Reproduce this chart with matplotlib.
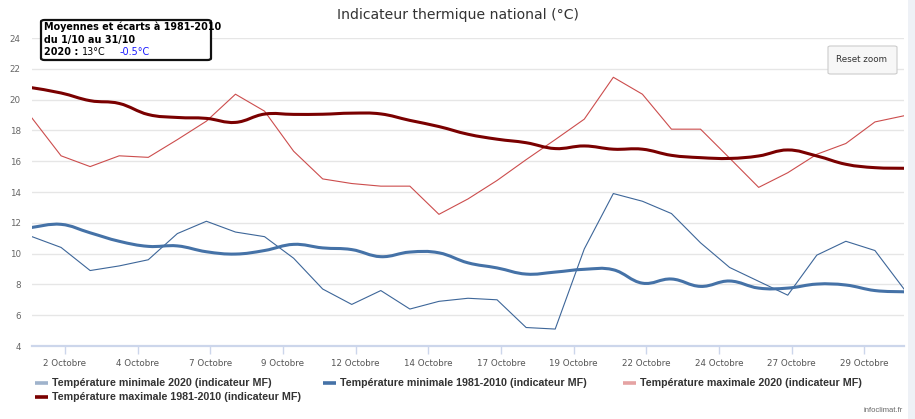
import matplotlib
matplotlib.use("Agg")
import matplotlib.pyplot as plt
from matplotlib.lines import Line2D
from matplotlib.patches import FancyBboxPatch, Rectangle, PathPatch
from matplotlib.path import Path
import numpy as np

# ---------------- data ----------------
days = list(range(1, 32))  # 1..31 octobre
tmin_2020 = [11.1, 10.4, 8.9, 9.2, 9.6, 11.3, 12.1, 11.4, 11.1, 9.7,
             7.7, 6.7, 7.6, 6.4, 6.9, 7.1, 7.0, 5.2, 5.1, 10.3,
             13.9, 13.4, 12.6, 10.7, 9.1, 8.2, 7.3, 9.9, 10.8, 10.2, 7.7]
tmin_norm = [11.7, 11.9, 11.35, 10.8, 10.47, 10.5, 10.12, 9.97, 10.2, 10.6,
             10.37, 10.26, 9.8, 10.1, 10.05, 9.4, 9.07, 8.67, 8.8, 8.98,
             8.95, 8.08, 8.35, 7.87, 8.22, 7.76, 7.76, 8.02, 7.96, 7.6, 7.52]
tmax_2020 = [18.8, 16.35, 15.65, 16.35, 16.25, 17.4, 18.6, 20.35, 19.25, 16.65,
             14.85, 14.55, 14.38, 14.38, 12.55, 13.55, 14.75, 16.1, 17.4, 18.73,
             21.45, 20.35, 18.08, 18.08, 16.2, 14.3, 15.25, 16.45, 17.15, 18.55, 18.95]
tmax_norm = [20.77, 20.43, 19.93, 19.75, 19.03, 18.84, 18.78, 18.52, 19.06, 19.04,
             19.05, 19.12, 19.07, 18.65, 18.25, 17.75, 17.43, 17.2, 16.82, 16.99,
             16.78, 16.78, 16.38, 16.23, 16.18, 16.34, 16.73, 16.34, 15.8, 15.58, 15.54]

tick_labels = ["2 Octobre", "4 Octobre", "7 Octobre", "9 Octobre", "12 Octobre",
               "14 Octobre", "17 Octobre", "19 Octobre", "22 Octobre", "24 Octobre",
               "27 Octobre", "29 Octobre"]
series_names = ["Température minimale 2020 (indicateur MF)",
                "Température minimale 1981-2010 (indicateur MF)",
                "Température maximale 2020 (indicateur MF)",
                "Température maximale 1981-2010 (indicateur MF)"]
title = "Indicateur thermique national (°C)"
box_lines = ["Moyennes et écarts à 1981-2010", "du 1/10 au 31/10"]
year_label, year_mean, year_anom = "2020 :", "13°C", "-0.5°C"

# ---------------- figure ----------------
W, H = 915, 419
fig = plt.figure(figsize=(W / 100, H / 100), dpi=100)
fig.patch.set_facecolor("white")

L, R, T, B = 32, 904, 38, 346
ax = fig.add_axes([L / W, 1 - B / H, (R - L) / W, (B - T) / H])
ax.set_facecolor("white")

x = np.array(days, dtype=float) - 1  # 0..30, one point per day

c_min20 = "#3d6699"
c_minn = "#4572a7"
c_max20 = "#cc4d4d"
c_maxn = "#7a0000"


def spline_patch(xs, ys, color, lw):
    """Smooth (spline style) rendering through the data points, in data coords."""
    xs = np.asarray(xs, float)
    ys = np.asarray(ys, float)
    n = len(xs)
    verts = [(xs[0], ys[0])]
    codes = [Path.MOVETO]
    k = 1 / 5.0
    for i in range(n - 1):
        p0 = np.array([xs[max(i - 1, 0)], ys[max(i - 1, 0)]])
        p1 = np.array([xs[i], ys[i]])
        p2 = np.array([xs[i + 1], ys[i + 1]])
        p3 = np.array([xs[min(i + 2, n - 1)], ys[min(i + 2, n - 1)]])
        c1 = p1 + (p2 - p0) * k
        c2 = p2 - (p3 - p1) * k
        verts += [tuple(c1), tuple(c2), tuple(p2)]
        codes += [Path.CURVE4] * 3
    return PathPatch(Path(verts, codes), facecolor="none", edgecolor=color,
                     lw=lw, capstyle="round", joinstyle="round", zorder=4)


ax.plot(x, tmin_2020, color=c_min20, lw=0.8, zorder=3, solid_joinstyle="round")
ax.add_patch(spline_patch(x, tmin_norm, c_minn, 2.2))
ax.plot(x, tmax_2020, color=c_max20, lw=0.8, zorder=3, solid_joinstyle="round")
ax.add_patch(spline_patch(x, tmax_norm, c_maxn, 2.2))

ax.set_xlim(0, 30)
ax.set_ylim(4, 24.0)
ax.set_yticks(range(4, 25, 2))
ax.yaxis.grid(True, color="#e6e6e6", lw=1.0, zorder=0)
ax.set_axisbelow(True)
for s in ["top", "right", "left"]:
    ax.spines[s].set_visible(False)
ax.spines["bottom"].set_color("#ccd6eb")
ax.spines["bottom"].set_linewidth(1.6)

tick_pos = [1.135 + 2.5 * k for k in range(len(tick_labels))]
ax.set_xticks(tick_pos)
ax.set_xticklabels(tick_labels)
ax.tick_params(axis="x", length=6, width=1, color="#ccd6eb", pad=3,
               labelsize=6.3, labelcolor="#555555")
ax.tick_params(axis="y", length=0, pad=8, labelsize=6.3, labelcolor="#666666")
for lab in ax.get_xticklabels() + ax.get_yticklabels():
    lab.set_fontfamily("DejaVu Sans")

# title
fig.text(458 / W, 1 - 15 / H, title, ha="center", va="center",
         fontsize=10.1, color="#333333", family="DejaVu Sans")

# info box
box = FancyBboxPatch((41 / W, 1 - 60 / H), (211 - 41) / W, (60 - 20) / H,
                     boxstyle="round,pad=0,rounding_size=0.004",
                     transform=fig.transFigure, facecolor="white",
                     edgecolor="#111111", lw=1.6, zorder=10)
fig.patches.append(box)
fam = ["DejaVu Sans"]
fs_box = 6.9
fig.text(44 / W, 1 - 27 / H, box_lines[0], fontsize=fs_box, fontweight="bold",
         va="center", ha="left", family=fam, zorder=11)
fig.text(44 / W, 1 - 39.5 / H, box_lines[1], fontsize=fs_box, fontweight="bold",
         va="center", ha="left", family=fam, zorder=11)
fig.text(44 / W, 1 - 52 / H, year_label, fontsize=fs_box, fontweight="bold",
         va="center", ha="left", family=fam, zorder=11)
fig.text(82 / W, 1 - 52 / H, year_mean, fontsize=fs_box, va="center", ha="left",
         family=fam, zorder=11)
fig.text(120 / W, 1 - 52 / H, year_anom, fontsize=fs_box, va="center", ha="left",
         color="#1a1aff", family=fam, zorder=11)

# reset zoom button
btn = FancyBboxPatch((828 / W, 1 - 74 / H), (897 - 828) / W, (74 - 46) / H,
                     boxstyle="round,pad=0,rounding_size=0.003",
                     transform=fig.transFigure, facecolor="#f7f7f7",
                     edgecolor="#cccccc", lw=0.8, zorder=10)
fig.patches.append(btn)
fig.text(862 / W, 1 - 60 / H, "Reset zoom", fontsize=6.3, ha="center",
         va="center", color="#333333", family="DejaVu Sans", zorder=11)

# right strip
fig.patches.append(Rectangle((908 / W, 0), 7 / W, 1, transform=fig.transFigure,
                             facecolor="#eef1f6", edgecolor="none"))

# legend (Highcharts-style horizontal legend, items placed in rows)
h_colors = ["#9fb3cc", c_minn, "#e5a3a3", c_maxn]
legend_slots = [(35, 383), (323, 383), (623, 383), (35, 397)]  # layout (px)
for name, col, (lx, ly) in zip(series_names, h_colors, legend_slots):
    fig.add_artist(Line2D([lx / W, (lx + 13) / W], [1 - ly / H, 1 - ly / H],
                          transform=fig.transFigure, color=col, lw=2.6,
                          solid_capstyle="butt"))
    fig.text((lx + 17) / W, 1 - ly / H, name, ha="left", va="center",
             fontsize=7.7, fontweight="bold", color="#333333",
             family=["Liberation Sans Narrow", "Liberation Sans"])

fig.text(903 / W, 1 - 410 / H, "infoclimat.fr", fontsize=5.5, ha="right",
         va="center", color="#666666",
         family=["Liberation Sans Narrow", "Liberation Sans"])

fig.savefig("out.png", dpi=100, facecolor="white")
